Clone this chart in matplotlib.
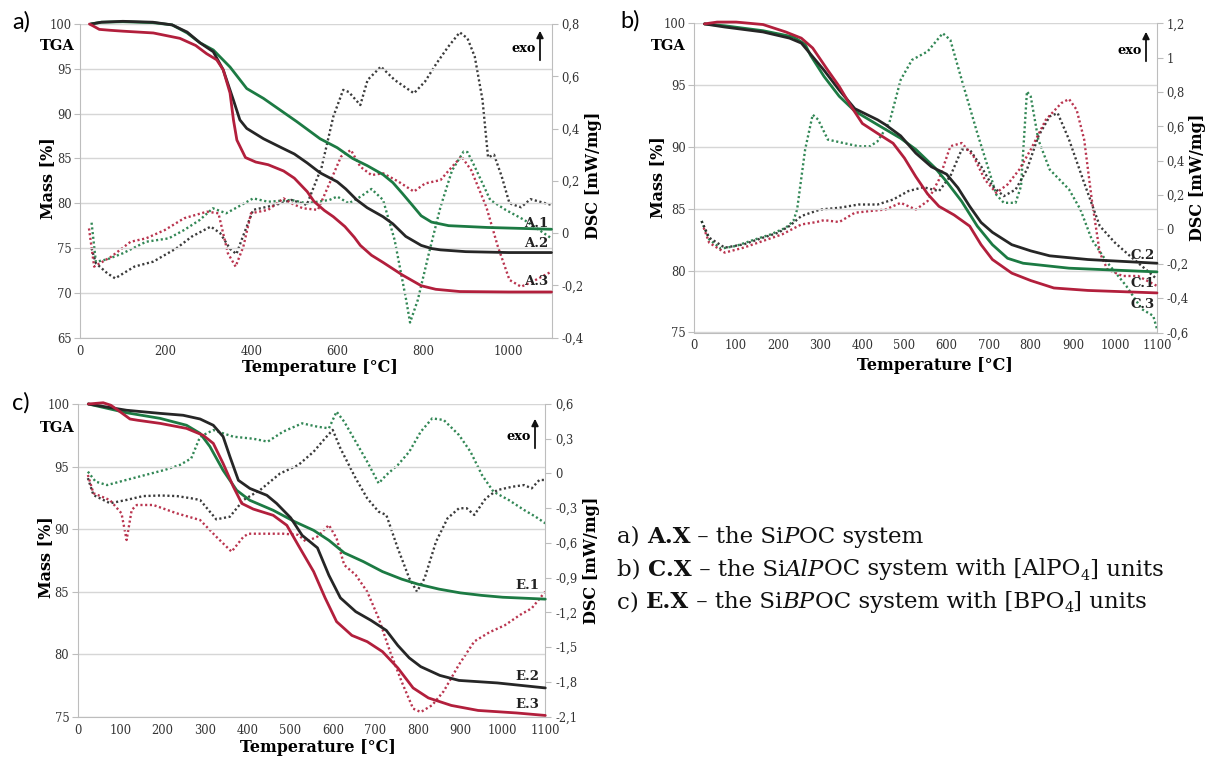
import numpy as np
import matplotlib
matplotlib.use("Agg")
import matplotlib.pyplot as plt
from matplotlib.ticker import FuncFormatter
from matplotlib.patches import FancyArrowPatch

# ==============================
# DATA
# ==============================
# --- panel a: SiPOC (A.X) ---
a1_tga_t = [25, 50, 100, 170, 215, 250, 280, 311, 350, 389, 428, 467, 506, 560, 600, 636, 670, 707, 730, 752, 775, 796, 820, 860, 950, 1100]
a1_tga_m = [100, 100.2, 100.25, 100.15, 99.9, 99.0, 97.9, 97.1, 95.2, 92.8, 91.7, 90.4, 89.1, 87.2, 86.2, 85.0, 84.2, 83.2, 82.3, 81.1, 79.8, 78.6, 77.9, 77.5, 77.3, 77.1]
a2_tga_t = [25, 50, 100, 170, 215, 250, 280, 311, 334, 358, 373, 389, 428, 470, 500, 530, 560, 600, 620, 645, 670, 707, 730, 760, 796, 820, 841, 900, 1000, 1100]
a2_tga_m = [100, 100.2, 100.3, 100.2, 99.9, 99.1, 97.9, 96.9, 94.9, 91.5, 89.3, 88.35, 87.2, 86.2, 85.5, 84.5, 83.4, 82.4, 81.6, 80.4, 79.5, 78.5, 77.7, 76.3, 75.3, 74.95, 74.8, 74.6, 74.5, 74.5]
a3_tga_t = [22, 30, 45, 70, 100, 171, 233, 270, 295, 319, 334, 350, 358, 366, 386, 410, 439, 475, 500, 530, 546, 570, 591, 618, 640, 654, 680, 707, 752, 796, 830, 886, 1000, 1100]
a3_tga_m = [100, 99.8, 99.4, 99.3, 99.2, 99.0, 98.4, 97.6, 96.7, 96.0, 94.9, 92.3, 89.3, 87.05, 85.1, 84.6, 84.3, 83.6, 82.8, 81.3, 80.2, 79.2, 78.5, 77.4, 76.2, 75.3, 74.2, 73.4, 72.0, 70.8, 70.4, 70.15, 70.1, 70.1]

a1_dsc_t = [27, 37, 64, 100, 154, 207, 243, 279, 310, 341, 368, 404, 439, 493, 529, 582, 600, 627, 655, 680, 707, 734, 761, 770, 788, 814, 841, 868, 895, 904, 921, 957, 993, 1037, 1082, 1100]
a1_dsc_v = [0.04, -0.11, -0.10, -0.077, -0.033, -0.02, 0.012, 0.05, 0.095, 0.076, 0.10, 0.133, 0.12, 0.127, 0.114, 0.127, 0.14, 0.114, 0.14, 0.169, 0.127, -0.026, -0.256, -0.342, -0.256, -0.077, 0.10, 0.24, 0.312, 0.31, 0.254, 0.127, 0.089, 0.05, 0.0, -0.02]
a2_dsc_t = [27, 37, 64, 82, 127, 171, 225, 261, 305, 327, 350, 365, 377, 404, 457, 493, 529, 564, 591, 614, 627, 654, 671, 702, 734, 779, 805, 832, 859, 886, 904, 921, 939, 952, 966, 984, 1002, 1029, 1051, 1073, 1100]
a2_dsc_v = [-0.058, -0.115, -0.154, -0.173, -0.128, -0.109, -0.058, -0.013, 0.025, 0.0, -0.06, -0.08, -0.026, 0.089, 0.108, 0.127, 0.108, 0.254, 0.446, 0.548, 0.54, 0.49, 0.586, 0.637, 0.586, 0.535, 0.58, 0.65, 0.713, 0.768, 0.745, 0.675, 0.51, 0.29, 0.30, 0.216, 0.114, 0.099, 0.13, 0.12, 0.108]
a3_dsc_t = [21, 33, 73, 118, 154, 198, 243, 296, 323, 345, 363, 381, 399, 439, 475, 493, 520, 555, 582, 609, 632, 654, 680, 707, 743, 779, 805, 841, 868, 890, 913, 948, 975, 1002, 1029, 1055, 1100]
a3_dsc_v = [0.018, -0.128, -0.09, -0.033, -0.02, 0.012, 0.057, 0.082, 0.076, -0.077, -0.128, -0.052, 0.076, 0.089, 0.133, 0.114, 0.095, 0.089, 0.19, 0.293, 0.318, 0.254, 0.222, 0.229, 0.197, 0.159, 0.19, 0.203, 0.254, 0.293, 0.24, 0.10, -0.052, -0.179, -0.205, -0.186, -0.147]

# --- panel b: SiAlPOC (C.X) ---
c1_tga_t = [25, 55, 100, 164, 218, 255, 282, 318, 345, 373, 400, 436, 473, 500, 527, 555, 582, 618, 655, 682, 709, 755, 800, 855, 936, 1100]
c1_tga_m = [99.95, 100.1, 100.1, 99.9, 99.3, 98.8, 98.0, 96.2, 94.9, 93.3, 91.9, 91.1, 90.3, 89.1, 87.6, 86.2, 85.2, 84.5, 83.6, 82.1, 80.9, 79.8, 79.2, 78.6, 78.4, 78.2]
c2_tga_t = [25, 73, 164, 227, 255, 282, 309, 345, 382, 436, 455, 491, 527, 564, 600, 627, 655, 682, 709, 755, 800, 845, 936, 1100]
c2_tga_m = [99.95, 99.7, 99.3, 98.8, 98.4, 97.3, 96.2, 94.6, 93.1, 92.2, 91.8, 90.9, 89.5, 88.4, 87.8, 86.7, 85.2, 83.9, 83.1, 82.1, 81.6, 81.2, 80.9, 80.6]
c3_tga_t = [25, 73, 164, 236, 264, 277, 309, 345, 382, 436, 491, 527, 573, 600, 636, 673, 709, 745, 782, 891, 1100]
c3_tga_m = [99.95, 99.8, 99.4, 98.9, 98.3, 97.4, 95.7, 94.1, 92.9, 91.8, 90.7, 89.8, 88.3, 87.2, 85.6, 83.6, 82.1, 81.0, 80.6, 80.2, 79.9]

c1_dsc_t = [23, 36, 73, 118, 164, 209, 255, 291, 309, 345, 382, 418, 455, 491, 527, 555, 582, 609, 636, 664, 691, 718, 745, 773, 800, 836, 873, 891, 909, 927, 945, 964, 982, 1018, 1055, 1100]
c1_dsc_v = [0.01, -0.077, -0.135, -0.106, -0.067, -0.029, 0.029, 0.043, 0.054, 0.043, 0.097, 0.107, 0.116, 0.155, 0.116, 0.165, 0.29, 0.484, 0.503, 0.426, 0.29, 0.213, 0.262, 0.349, 0.465, 0.639, 0.736, 0.759, 0.697, 0.523, 0.174, -0.135, -0.232, -0.271, -0.271, -0.329]
c2_dsc_t = [18, 36, 73, 118, 164, 200, 227, 255, 300, 345, 391, 436, 473, 509, 545, 582, 609, 636, 655, 682, 709, 736, 764, 791, 818, 845, 864, 891, 927, 964, 1000, 1036, 1073, 1100]
c2_dsc_v = [0.049, -0.048, -0.106, -0.087, -0.048, -0.019, 0.02, 0.078, 0.116, 0.126, 0.145, 0.145, 0.174, 0.223, 0.246, 0.223, 0.31, 0.465, 0.465, 0.368, 0.252, 0.194, 0.232, 0.349, 0.542, 0.658, 0.677, 0.523, 0.271, 0.02, -0.077, -0.155, -0.232, -0.29]
c3_dsc_t = [18, 36, 64, 100, 145, 182, 218, 236, 245, 264, 282, 295, 318, 355, 391, 418, 436, 464, 491, 518, 555, 591, 609, 636, 673, 700, 718, 736, 764, 777, 791, 800, 818, 845, 891, 918, 945, 982, 1027, 1064, 1091, 1100]
c3_dsc_v = [0.049, -0.058, -0.112, -0.096, -0.058, -0.029, 0.01, 0.049, 0.116, 0.465, 0.668, 0.639, 0.523, 0.503, 0.484, 0.484, 0.513, 0.62, 0.871, 0.987, 1.036, 1.142, 1.103, 0.871, 0.561, 0.349, 0.203, 0.155, 0.155, 0.252, 0.803, 0.774, 0.523, 0.349, 0.233, 0.116, -0.058, -0.193, -0.329, -0.464, -0.503, -0.58]

# --- panel c: SiBPOC (E.X) ---
e1_tga_t = [25, 115, 194, 256, 288, 311, 342, 374, 405, 460, 510, 555, 591, 627, 672, 717, 762, 800, 850, 900, 950, 1000, 1100]
e1_tga_m = [100, 99.3, 98.85, 98.3, 97.65, 96.6, 94.7, 93.1, 92.3, 91.5, 90.6, 89.9, 89.1, 88.1, 87.4, 86.6, 86.0, 85.6, 85.2, 84.9, 84.7, 84.55, 84.4]
e2_tga_t = [25, 115, 194, 248, 288, 319, 342, 358, 378, 405, 445, 468, 501, 528, 564, 591, 618, 654, 690, 726, 753, 780, 807, 852, 897, 987, 1100]
e2_tga_m = [100, 99.5, 99.25, 99.1, 98.8, 98.3, 97.4, 95.8, 93.9, 93.25, 92.7, 92.05, 90.9, 89.5, 88.5, 86.3, 84.5, 83.4, 82.7, 81.9, 80.7, 79.7, 79.0, 78.3, 77.9, 77.7, 77.3]
e3_tga_t = [25, 60, 78, 99, 123, 141, 194, 256, 295, 319, 342, 366, 386, 413, 460, 492, 519, 555, 582, 609, 645, 681, 717, 753, 789, 825, 879, 942, 1032, 1100]
e3_tga_m = [100, 100.1, 99.9, 99.4, 98.8, 98.7, 98.45, 98.05, 97.5, 96.85, 95.25, 93.4, 92.05, 91.6, 91.1, 90.3, 88.7, 86.6, 84.5, 82.6, 81.5, 81.0, 80.2, 78.9, 77.3, 76.5, 75.9, 75.5, 75.3, 75.1]

e1_dsc_t = [24, 42, 69, 114, 159, 204, 240, 267, 288, 319, 366, 413, 447, 483, 528, 564, 591, 609, 627, 654, 681, 708, 726, 753, 780, 807, 834, 861, 897, 924, 951, 978, 1014, 1050, 1077, 1100]
e1_dsc_v = [0.016, -0.07, -0.1, -0.056, -0.013, 0.03, 0.073, 0.13, 0.318, 0.375, 0.318, 0.30, 0.275, 0.361, 0.433, 0.404, 0.39, 0.534, 0.447, 0.275, 0.102, -0.085, -0.013, 0.073, 0.188, 0.361, 0.476, 0.462, 0.332, 0.188, -0.013, -0.157, -0.229, -0.315, -0.373, -0.43]
e2_dsc_t = [24, 37, 76, 114, 154, 195, 233, 267, 288, 326, 358, 390, 429, 476, 519, 555, 582, 600, 618, 654, 681, 708, 726, 753, 780, 798, 816, 843, 870, 897, 915, 933, 960, 987, 1023, 1050, 1068, 1086, 1100]
e2_dsc_v = [-0.04, -0.186, -0.257, -0.229, -0.195, -0.19, -0.195, -0.214, -0.229, -0.396, -0.373, -0.229, -0.143, 0.0, 0.073, 0.188, 0.304, 0.376, 0.217, -0.042, -0.214, -0.33, -0.358, -0.646, -0.905, -1.02, -0.905, -0.588, -0.387, -0.3, -0.3, -0.358, -0.214, -0.143, -0.114, -0.1, -0.128, -0.056, -0.056]
e3_dsc_t = [24, 37, 76, 103, 115, 127, 139, 178, 233, 288, 326, 362, 390, 402, 447, 483, 519, 537, 564, 591, 609, 627, 654, 681, 708, 735, 762, 789, 807, 834, 861, 897, 933, 969, 1005, 1041, 1068, 1100]
e3_dsc_v = [-0.013, -0.17, -0.23, -0.344, -0.574, -0.315, -0.272, -0.272, -0.344, -0.402, -0.546, -0.675, -0.546, -0.52, -0.52, -0.52, -0.53, -0.589, -0.545, -0.445, -0.56, -0.79, -0.876, -1.02, -1.25, -1.54, -1.797, -2.03, -2.06, -2.0, -1.88, -1.65, -1.45, -1.37, -1.31, -1.22, -1.164, -1.02]

# curve labels: (text, mass position)
a_labels = [("A.1", 77.7), ("A.2", 75.5), ("A.3", 71.3)]
c_labels = [("C.2", 81.2), ("C.1", 79.0), ("C.3", 77.3)]
e_labels = [("E.1", 85.5), ("E.2", 78.2), ("E.3", 76.0)]

# description lines: runs of (text, style)  style: r=regular, b=bold, i=italic, s=subscript
legend_lines = [
    [("a) ", "r"), ("A.X", "b"), (" – the Si", "r"), ("P", "i"), ("OC system", "r")],
    [("b) ", "r"), ("C.X", "b"), (" – the Si", "r"), ("AlP", "i"), ("OC system with [AlPO", "r"), ("4", "s"), ("] units", "r")],
    [("c) ", "r"), ("E.X", "b"), (" – the Si", "r"), ("BP", "i"), ("OC system with [BPO", "r"), ("4", "s"), ("] units", "r")],
]

# ==============================
# STYLE
# ==============================
GREEN = "#1c7a43"
BLACK = "#262626"
RED = "#b21f3c"
GRID = "#d6d6d6"
SPINE = "#bdbdbd"
SERIF = "DejaVu Serif"

plt.rcParams["font.family"] = SERIF

W, H = 1211, 758
fig = plt.figure(figsize=(W / 100, H / 100), dpi=100)


def comma_fmt(v, pos):
    if abs(v) < 1e-9:
        return "0"
    s = f"{v:.1f}"
    if s.endswith(".0"):
        s = s[:-2]
    return s.replace(".", ",")


def fx(x):
    return x / W


def fy(y):
    return 1 - y / H


def panel(box, ylim, yticks, dlim, dticks, xticks, tga, dsc, labels, lab_x,
          tag, tag_xy, tga_xy, exo_xy, mass_xy, dsc_xy, temp_xy):
    l, r, t, b = box
    ax = fig.add_axes([fx(l), fy(b), fx(r - l), (b - t) / H])
    ax.set_xlim(0, 1100)
    ax.set_ylim(*ylim)
    ax.set_yticks(yticks)
    ax.set_xticks(xticks)
    ax.grid(axis="y", color=GRID, lw=1.0)
    ax.set_axisbelow(True)
    for s in ["top", "right"]:
        ax.spines[s].set_visible(False)
    for s in ["left", "bottom"]:
        ax.spines[s].set_color(SPINE)
    ax.tick_params(axis="y", length=4, color=SPINE, labelsize=8.3, pad=2, labelcolor="#333333")
    ax.tick_params(axis="x", length=0, labelsize=8.3, pad=5, labelcolor="#333333")

    ax2 = ax.twinx()
    ax2.set_ylim(*dlim)
    ax2.set_yticks(dticks)
    ax2.yaxis.set_major_formatter(FuncFormatter(comma_fmt))
    for s in ["top", "left", "bottom"]:
        ax2.spines[s].set_visible(False)
    ax2.spines["right"].set_color(SPINE)
    ax2.tick_params(axis="y", length=4, color=SPINE, labelsize=8.3, pad=3, labelcolor="#333333")

    for (t_, v_), c in zip(dsc, [GREEN, BLACK, RED]):
        ax2.plot(t_, v_, color=c, lw=1.7, ls=(0, (0.9, 1.1)), alpha=0.9)
    for (t_, m_), c in zip(tga, [GREEN, BLACK, RED]):
        ax.plot(t_, m_, color=c, lw=2.0, solid_capstyle="round", clip_on=False)
    ax.set_zorder(ax2.get_zorder() + 1)
    ax.patch.set_visible(False)

    for txt, yv in labels:
        ax.text(lab_x, yv, txt, ha="right", va="center", fontsize=9.5, fontweight="bold", color="#222222")

    fig.text(fx(tag_xy[0]), fy(tag_xy[1]), tag, family="Lato", fontsize=17, ha="center", va="center")
    fig.text(fx(tga_xy[0]), fy(tga_xy[1]), "TGA", fontsize=10.5, fontweight="bold", ha="center", va="center")
    ex, ey = exo_xy
    fig.text(fx(ex), fy(ey), "exo", fontsize=9.3, fontweight="bold", ha="right", va="center")
    fig.add_artist(FancyArrowPatch((fx(ex + 4), fy(ey + 14)), (fx(ex + 4), fy(ey - 21)),
                                   transform=fig.transFigure, arrowstyle="-|>,head_length=4,head_width=2",
                                   color="#111111", lw=1.3))
    fig.text(fx(mass_xy[0]), fy(mass_xy[1]), "Mass [%]", fontsize=11.5, fontweight="bold", rotation=90, ha="center", va="center")
    fig.text(fx(dsc_xy[0]), fy(dsc_xy[1]), "DSC [mW/mg]", fontsize=11.5, fontweight="bold", rotation=90, ha="center", va="center")
    fig.text(fx(temp_xy[0]), fy(temp_xy[1]), "Temperature [°C]", fontsize=11.5, fontweight="bold", ha="center", va="center")
    return ax, ax2


# ==============================
# PANELS
# ==============================
panel((80, 551.5, 24, 337.7), (65, 100), np.arange(65, 101, 5), (-0.4, 0.8), np.arange(-0.4, 0.81, 0.2), np.arange(0, 1001, 200),
      [(a1_tga_t, a1_tga_m), (a2_tga_t, a2_tga_m), (a3_tga_t, a3_tga_m)],
      [(a1_dsc_t, a1_dsc_v), (a2_dsc_t, a2_dsc_v), (a3_dsc_t, a3_dsc_v)],
      a_labels, 1092, "a)", (21, 22), (57, 46), (536, 49), (48, 178), (593, 175), (320, 367))

panel((694, 1157, 23.3, 332.5), (75, 100), np.arange(75, 101, 5), (-0.6, 1.2), np.arange(-0.6, 1.21, 0.2), np.arange(0, 1101, 100),
      [(c3_tga_t, c3_tga_m), (c2_tga_t, c2_tga_m), (c1_tga_t, c1_tga_m)],
      [(c3_dsc_t, c3_dsc_v), (c2_dsc_t, c2_dsc_v), (c1_dsc_t, c1_dsc_v)],
      c_labels, 1095, "b)", (630, 21), (668, 46), (1142, 50), (658, 177), (1197, 177), (935, 365))

panel((77.7, 545.3, 404, 716.7), (75, 100), np.arange(75, 101, 5), (-2.1, 0.6), np.arange(-2.1, 0.61, 0.3), np.arange(0, 1101, 100),
      [(e1_tga_t, e1_tga_m), (e2_tga_t, e2_tga_m), (e3_tga_t, e3_tga_m)],
      [(e1_dsc_t, e1_dsc_v), (e2_dsc_t, e2_dsc_v), (e3_dsc_t, e3_dsc_v)],
      e_labels, 1086, "c)", (21, 403), (57, 428), (531, 437), (46, 557), (591, 560), (318, 747))

# ==============================
# DESCRIPTION TEXT (runs drawn one after another)
# ==============================
renderer = fig.canvas.get_renderer()
FS = 16.5


def run_props(style):
    if style == "b":
        return dict(fontweight="bold", fontsize=FS), 0
    if style == "i":
        return dict(fontstyle="italic", fontsize=FS), 0
    if style == "s":
        return dict(fontsize=FS * 0.62), 6
    return dict(fontsize=FS), 0


def text_width(s, props):
    t1 = fig.text(0, 0, "|" + s + "|", **props)
    t2 = fig.text(0, 0, "||", **props)
    w = t1.get_window_extent(renderer).width - t2.get_window_extent(renderer).width
    t1.remove()
    t2.remove()
    return w


for i, runs in enumerate(legend_lines):
    x = 617.0
    y = 537 + 32.5 * i
    for s, style in runs:
        props, dy = run_props(style)
        fig.text(fx(x), fy(y + dy), s, ha="left", va="center", color="#111111", **props)
        x += text_width(s, props)

fig.savefig("out.png", dpi=100)
